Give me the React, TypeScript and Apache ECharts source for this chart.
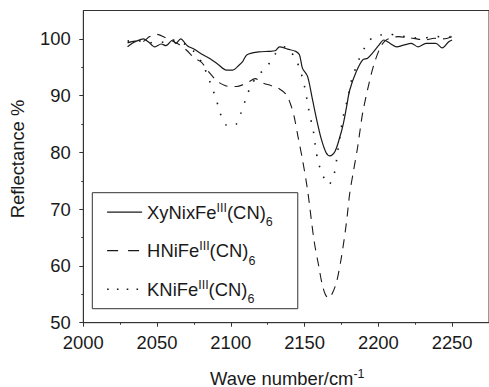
import React, { useEffect, useRef } from 'react';
import * as echarts from 'echarts';

// ---- Data ----
const xyWave = [2030,2033,2036,2040.7,2044,2048.5,2052.8,2056,2060.6,2062.7,2066,2070.5,2075,2080.4,2086,2091.4,2097,2101.3,2105.7,2108,2111,2119,2125.5,2130,2133,2138.5,2144,2146.5,2148.6,2152,2155.2,2158.5,2161.5,2164.5,2167.2,2170.5,2174,2176.2,2178.3,2180.6,2185,2189.4,2192.7,2196,2200.4,2203.7,2208,2212.5,2217,2222.4,2226.8,2232.3,2239,2243.3,2247.7,2250];
const xyRefl = [98.6,99.2,99.6,100.0,99.5,98.6,99.1,98.8,99.8,99.2,100.0,98.8,98.2,97.3,96.5,95.5,94.5,94.5,95.4,96.0,97.2,97.7,97.8,97.9,98.6,98.2,97.8,97.2,94.8,93.4,89.5,85.4,82.2,80.0,79.4,80.1,82.8,85.0,87.8,91.0,94.2,96.3,96.6,97.5,98.9,99.8,99.2,98.6,98.9,99.2,98.6,99.2,99.2,98.4,99.5,99.8];

const hWave = [2030,2035,2040,2045,2050,2055,2060,2065,2070,2075,2080,2085,2091,2096,2100,2104,2108,2112,2116.5,2122,2127,2131,2137.5,2141,2143,2145.3,2148.6,2152,2156.4,2159.7,2161.8,2164,2166.3,2168.5,2171.7,2175,2178.3,2180.6,2183,2186,2189.4,2193.8,2197,2201.5,2204.8,2209,2213.6,2220,2226,2231,2238,2244,2250];
const hRefl = [99.3,99.6,99.5,100.4,100.8,100.3,99.7,99.0,98.0,96.7,95.9,94.2,92.5,91.8,91.6,91.6,91.9,92.4,93.0,92.2,91.8,91.5,90.2,88.1,86.2,83.1,78.7,73.4,64.5,59.8,56.9,55.0,54.3,55.0,57.2,61.6,67.5,72.8,76.5,81.0,87.0,92.3,95.5,98.6,99.7,100.2,100.4,100.2,100.0,99.8,100.1,100.0,100.4];

const kWave = [2030,2035,2040,2045,2050,2055,2060,2065,2070,2075,2080,2083.7,2087,2090.3,2092.5,2096.4,2100,2103.5,2106.8,2110.1,2113.4,2117.8,2124.4,2130,2133,2137,2141,2144.3,2147.6,2149.8,2151.5,2153,2154.8,2156.4,2157.5,2159.2,2161.8,2166.3,2170.2,2171.7,2172.9,2176.2,2179.5,2181.6,2187.2,2191.1,2197.1,2202,2207,2212,2218,2224,2230,2235,2240,2245,2249];
const kRefl = [99.6,99.8,99.5,99.3,99.6,99.4,99.8,99.6,98.9,97.8,96.0,93.9,91.6,89.2,87.1,84.9,84.6,84.9,86.9,89.4,91.6,93.4,95.1,97.3,98.2,98.6,97.6,96.3,94.0,91.8,89.5,87.3,85.1,83.1,80.7,78.4,76.3,74.3,76.4,78.7,81.0,86.3,89.8,92.5,96.6,98.6,100.5,100.7,100.9,100.6,100.4,100.2,100.1,100.3,100.4,100.3,100.4];

const seriesNames = ['XyNixFe(III)(CN)6', 'HNiFe(III)(CN)6', 'KNiFe(III)(CN)6'];
const legendParts = [
  ['XyNixFe', 'III', '(CN)', '6'],
  ['HNiFe', 'III', '(CN)', '6'],
  ['KNiFe', 'III', '(CN)', '6'],
];
const xMajorTicks = [2000, 2050, 2100, 2150, 2200, 2250];
const xMinorTicks = [2025, 2075, 2125, 2175, 2225];
const yMajorTicks = [50, 60, 70, 80, 90, 100];
const yMinorTicks = [55, 65, 75, 85, 95];
const xTitle = 'Wave number/cm';
const xTitleSup = '-1';
const yTitle = 'Reflectance %';

const FONT = "'Liberation Sans', Arial, Helvetica, sans-serif";
const INK = '#1a1a1a';
const AXIS = '#333';

const zip = (xs: number[], ys: number[]) => xs.map((x, i) => [x, ys[i]]);

const richStyles = {
  a: { fontSize: 18.4, fontFamily: FONT, color: INK, lineHeight: 22, verticalAlign: 'middle' },
  sup: { fontSize: 12.5, fontFamily: FONT, color: INK, lineHeight: 12, padding: [0, 0, 9, 0], verticalAlign: 'middle' },
  sub: { fontSize: 12.5, fontFamily: FONT, color: INK, lineHeight: 12, padding: [20, 0, 0, 0], verticalAlign: 'middle' },
};

const plain = (v: number) => String(v);

export default function App() {
  const ref = useRef<HTMLDivElement>(null);
  useEffect(() => {
    if (!ref.current) return;
    const chart = echarts.init(ref.current, undefined, { renderer: 'svg' });
    const lineStyles = [
      { color: INK, width: 1.2, type: 'solid' },
      { color: INK, width: 1.1, type: [9, 7] },
      { color: INK, width: 1.6, type: [1.6, 10] },
    ];
    const legendLineStyles = [
      { color: INK, width: 1.2, type: 'solid' },
      { color: INK, width: 1.2, type: [11, 10] },
      { color: INK, width: 1.6, type: [1.6, 8.2] },
    ];
    const datasets = [zip(xyWave, xyRefl), zip(hWave, hRefl), zip(kWave, kRefl)];
    const option: any = {
      animation: false,
      backgroundColor: '#fff',
      grid: {
        left: 83.3, right: -10.7, top: 10.5, bottom: 64.3,
        show: true, borderColor: AXIS, borderWidth: 1, backgroundColor: 'transparent',
      },
      xAxis: [
        {
          type: 'value', min: 2000, max: 2275, interval: 50, position: 'bottom',
          axisLine: { show: true, onZero: false, lineStyle: { color: AXIS, width: 1 } },
          axisTick: { show: true, length: 4, customValues: xMajorTicks, lineStyle: { color: AXIS } },
          axisLabel: { show: true, margin: 11, fontSize: 18.4, color: INK, fontFamily: FONT, customValues: xMajorTicks, formatter: plain },
          splitLine: { show: false },
        },
        {
          type: 'value', min: 2000, max: 2275, interval: 25, position: 'bottom',
          axisLine: { show: false },
          axisTick: { show: true, length: 2, customValues: xMinorTicks, lineStyle: { color: AXIS } },
          axisLabel: { show: false },
          splitLine: { show: false },
        },
      ],
      yAxis: [
        {
          type: 'value', min: 50, max: 105, interval: 10, position: 'left',
          axisLine: { show: true, onZero: false, lineStyle: { color: AXIS, width: 1 } },
          axisTick: { show: true, length: 4, customValues: yMajorTicks, lineStyle: { color: AXIS } },
          axisLabel: { show: true, margin: 12.5, fontSize: 18.4, color: INK, fontFamily: FONT, customValues: yMajorTicks, formatter: plain },
          splitLine: { show: false },
        },
        {
          type: 'value', min: 50, max: 105, interval: 5, position: 'left',
          axisLine: { show: false },
          axisTick: { show: true, length: 2, customValues: yMinorTicks, lineStyle: { color: AXIS } },
          axisLabel: { show: false },
          splitLine: { show: false },
        },
      ],
      legend: {
        show: true, orient: 'vertical', left: 92.3, top: 192.7,
        padding: [3, 25, 3, 14], itemGap: 5.5, itemWidth: 35, itemHeight: 14,
        borderColor: AXIS, borderWidth: 1, backgroundColor: '#fff',
        data: seriesNames.map((n, i) => ({
          name: n, lineStyle: legendLineStyles[i],
          itemStyle: { opacity: 0, color: 'transparent', borderWidth: 0 },
        })),
        formatter: (name: string) => {
          const p = legendParts[seriesNames.indexOf(name)];
          return `{a|${p[0]}}{sup|${p[1]}}{a|${p[2]}}{sub|${p[3]}}`;
        },
        textStyle: { fontFamily: FONT, color: INK, rich: richStyles },
      },
      graphic: [
        {
          type: 'text', x: 17, y: 159, rotation: Math.PI / 2,
          style: { text: yTitle, fontSize: 18.4, fontFamily: FONT, fill: INK, align: 'center', verticalAlign: 'middle' },
        },
        {
          type: 'text', x: 210, y: 378,
          style: {
            text: `{a|${xTitle}}{sup|${xTitleSup}}`, rich: richStyles, align: 'left', verticalAlign: 'middle',
            fontFamily: FONT, fill: INK,
          },
        },
      ],
      series: seriesNames.map((n, i) => ({
        name: n, type: 'line', xAxisIndex: 0, yAxisIndex: 0,
        data: datasets[i], symbol: 'none', showSymbol: false, smooth: 0.3,
        lineStyle: { ...lineStyles[i], cap: 'butt' },
        emphasis: { disabled: true }, z: 3 - i,
      })),
    };
    chart.setOption(option);
    return () => chart.dispose();
  }, []);
  return <div ref={ref} style={{ position: 'absolute', left: 0, top: 0, width: 489, height: 387 }} />;
}
